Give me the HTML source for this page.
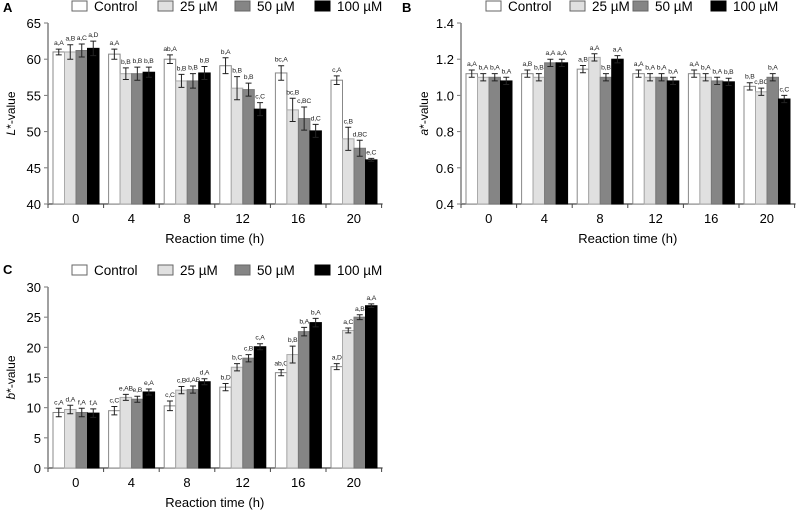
<!DOCTYPE html>
<html><head><meta charset="utf-8"><style>
body{margin:0;background:#fff;width:796px;height:510px;overflow:hidden;font-family:"Liberation Sans",sans-serif}
svg{display:block}
</style></head><body>
<svg id="chart" width="796" height="510" xmlns="http://www.w3.org/2000/svg" font-family="Liberation Sans, sans-serif"></svg>
<script>
const categories=["0","4","8","12","16","20"];
const seriesNames=["Control","25 µM","50 µM","100 µM"];
const lValues=[[61.0,61.0,61.2,61.5],[60.7,58.0,58.0,58.2],[60.0,57.0,57.0,58.1],[59.1,56.0,55.8,53.1],[58.1,53.0,51.8,50.1],[57.1,49.0,47.7,46.1]];
const lErrors=[[0.4,1.0,0.9,1.0],[0.7,0.8,0.9,0.7],[0.6,0.9,1.0,0.9],[1.1,1.6,0.9,0.9],[1.0,1.6,1.6,0.9],[0.6,1.6,1.1,0.2]];
const lLabels=[["a,A","a,B","a,C","a,D"],["a,A","b,B","b,B","b,B"],["ab,A","b,B","b,B","b,B"],["b,A","b,B","b,B","c,C"],["bc,A","bc,B","c,BC","d,C"],["c,A","c,B","d,BC","e,C"]];
const lTicks=[40,45,50,55,60,65];
const aValues=[[1.12,1.10,1.10,1.08],[1.12,1.10,1.18,1.18],[1.145,1.21,1.10,1.20],[1.12,1.10,1.10,1.08],[1.12,1.10,1.08,1.075],[1.05,1.02,1.10,0.98]];
const aErrors=[[0.02,0.02,0.02,0.02],[0.02,0.02,0.02,0.02],[0.02,0.02,0.02,0.02],[0.02,0.02,0.02,0.02],[0.02,0.02,0.02,0.02],[0.02,0.02,0.02,0.02]];
const aLabels=[["a,A","b,A","b,A","b,A"],["a,B","b,B","a,A","a,A"],["a,B","a,A","b,B","a,A"],["a,A","b,A","b,A","b,A"],["a,A","b,A","b,A","b,B"],["b,B","c,BC","b,A","c,C"]];
const aTicks=["0.4","0.6","0.8","1.0","1.2","1.4"];
const bValues=[[9.2,9.7,9.2,9.1],[9.5,11.7,11.4,12.6],[10.3,12.9,13.0,14.3],[13.4,16.7,18.2,20.1],[15.8,18.8,22.6,24.1],[16.8,22.8,25.0,26.9]];
const bErrors=[[0.7,0.7,0.7,0.7],[0.7,0.5,0.5,0.5],[0.8,0.6,0.6,0.5],[0.6,0.6,0.6,0.5],[0.5,1.4,0.7,0.7],[0.5,0.4,0.4,0.3]];
const bLabels=[["c,A","d,A","f,A","f,A"],["c,C","e,AB","e,B","e,A"],["c,C","c,B","d,AB","d,A"],["b,D","b,C","c,B","c,A"],["ab,C","b,B","b,A","b,A"],["a,D","a,C","a,B","a,A"]];
const bTicks=[0,5,10,15,20,25,30];

const NS="http://www.w3.org/2000/svg";
const svg=document.getElementById('chart');
const fills=["#ffffff","#e0e0e0","#858585","#000000"];
const strokes=["#888","#aaa","#777","#000"];
function mk(tag,attrs,parent,text){const e=document.createElementNS(NS,tag);for(const k in attrs)e.setAttribute(k,attrs[k]);if(text!==undefined)e.textContent=text;(parent||svg).appendChild(e);return e;}

function panel(o){
  const g=mk('g',{});
  
  
  const x0=o.x0,yTop=o.yTop,yBot=o.yBot,gw=55.6,xEnd=x0+gw*6+1;
  const ys=v=>yBot-(v-o.min)/(o.max-o.min)*(yBot-yTop);
  const pl=mk('text',{x:o.lx,y:o.ly,'font-size':13,'font-weight':'bold'},g,o.letter);
  
  
  for(let s=0;s<4;s++){
    const le=mk('g',{},g);
    
    
    mk('rect',{x:o.legX[s],y:o.legY-5,width:15,height:10,fill:fills[s],stroke:s==3?'#000':'#666','stroke-width':1},le);
    mk('text',{x:o.legX[s]+22,y:o.legY+5,'font-size':13.5},le,seriesNames[s]);
  }
  const ya=mk('g',{},g);
  
  
  o.ticks.forEach(t=>{const y=ys(parseFloat(t));
    mk('line',{x1:x0-4,y1:y,x2:x0,y2:y,stroke:'#777'},ya);
    const tl=mk('text',{x:x0-7,y:y+5,'font-size':13,'text-anchor':'end'},ya,t);
    
    });
  const yt=mk('text',{x:0,y:0,'font-size':12,'text-anchor':'middle',transform:`translate(${x0-33},${(yTop+yBot)/2}) rotate(-90)`},g);
  
  
  mk('tspan',{'font-style':'italic'},yt,o.ylab);mk('tspan',{},yt,'*-value');
  const xa=mk('g',{},g);
  
  
  mk('line',{x1:x0,y1:yBot,x2:xEnd,y2:yBot,stroke:'#444','stroke-width':1.2},xa);
  for(let i=0;i<=6;i++){const x=x0+gw*i;mk('line',{x1:x,y1:yBot,x2:x,y2:yBot+4,stroke:'#444'},xa);}
  categories.forEach((c,i)=>{const tl=mk('text',{x:x0+gw*i+gw/2,y:yBot+19,'font-size':13,'text-anchor':'middle'},xa,c);
    
    });
  const xt=mk('text',{x:x0+gw*3,y:yBot+39,'font-size':13,'text-anchor':'middle'},g,'Reaction time (h)');
  
  
  const bw=11.5;
  o.values.forEach((row,i)=>row.forEach((v,s)=>{
    const bx=x0+gw*i+5+s*bw;const y=ys(v);
    const b=mk('rect',{x:bx,y:y,width:bw,height:yBot-y,fill:fills[s],stroke:strokes[s],'stroke-width':1},g);
    
    
    const e=o.errors[i][s];const cx=bx+bw/2;const y1=ys(v+e),y2=ys(v-e);
    const eb=mk('path',{d:`M${cx-3},${y1}H${cx+3}M${cx},${y1}V${y2}M${cx-3},${y2}H${cx+3}`,stroke:'#222','stroke-width':1,fill:'none'},g);
    
    
    const lt=mk('text',{x:cx,y:y1-4,'font-size':6.8,'letter-spacing':'-0.2','text-anchor':'middle',fill:'#222'},g,o.labels[i][s]);
    
    
  }));
  mk('line',{x1:x0,y1:yTop,x2:x0,y2:yBot,stroke:'#888','stroke-width':1.6},g);
}
panel({name:'panel-a-lightness',letter:'A',lx:3,ly:12,x0:48,yTop:23,yBot:204,min:40,max:65,ticks:lTicks.map(String),values:lValues,errors:lErrors,labels:lLabels,ylab:'L',legX:[72,158,235,315],legY:6});
panel({name:'panel-b-redness',letter:'B',lx:402,ly:12,x0:461,yTop:23,yBot:204,min:0.4,max:1.4,ticks:aTicks,values:aValues,errors:aErrors,labels:aLabels,ylab:'a',legX:[486,570,633,711],legY:6});
panel({name:'panel-c-yellowness',letter:'C',lx:3,ly:274,x0:48,yTop:287,yBot:468,min:0,max:30,ticks:bTicks.map(String),values:bValues,errors:bErrors,labels:bLabels,ylab:'b',legX:[72,158,235,315],legY:270});
</script>
</body></html>
